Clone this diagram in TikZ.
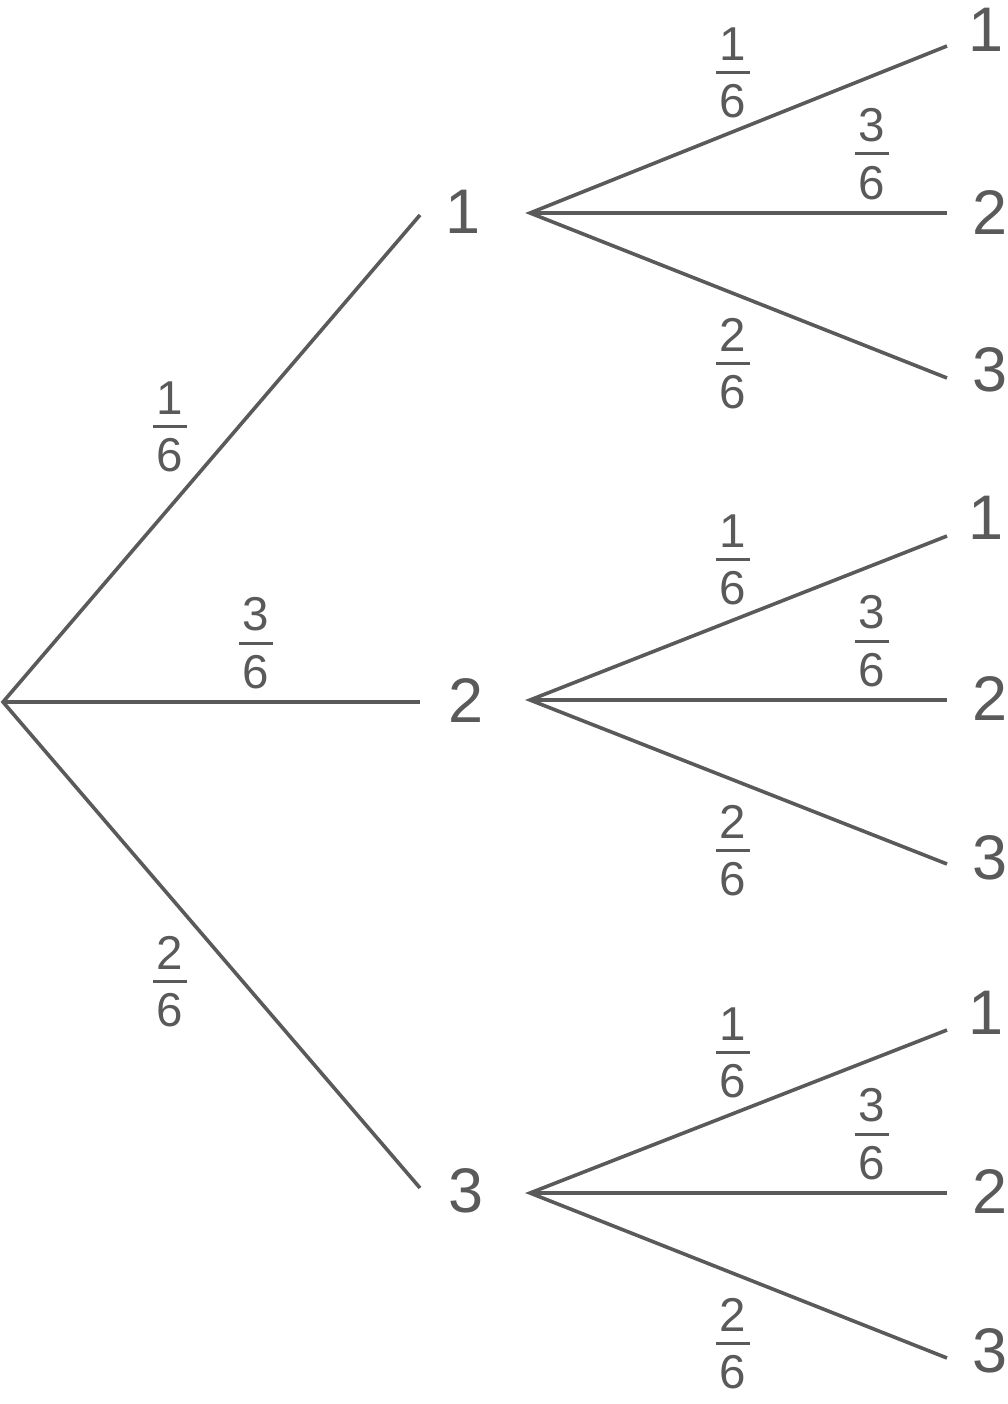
\documentclass[tikz,border=0pt]{standalone}
\usepackage{fontspec}
\setmainfont{Liberation Sans}
\definecolor{ink}{HTML}{5A5A5A}
\newcommand\myfr[2]{\vbox{\hbox to 34pt{\hss#1\hss}\kern10.5pt\hrule height 3pt\kern10.5pt\hbox to 34pt{\hss#2\hss}}}
\begin{document}
\begin{tikzpicture}[x=1pt,y=-1pt,
  edge/.style={draw=ink,line width=3.6pt,line join=miter},
  bigdig/.style={text=ink,inner sep=0pt,text depth=0pt,font=\fontsize{63}{63}\selectfont},
  frac/.style={text=ink,inner sep=0pt,font=\fontsize{47.5}{47.5}\selectfont}]
\useasboundingbox (0,0) rectangle (1008,1404);
% root and level 1
\coordinate (r) at (3,702);
\coordinate (a1) at (420,215);
\coordinate (a2) at (420,702);
\coordinate (a3) at (420,1188);
\draw[edge] (a1) -- (r) -- (a3);
\draw[edge] (r) -- (a2);
\node[bigdig] (n1) at (463,212) {1};
\node[bigdig] (n2) at (466,700) {2};
\node[bigdig] (n3) at (466,1190) {3};
\node[frac] (f1) at (170,427) {\myfr{1}{6}};
\node[frac] (f2) at (256,643) {\myfr{3}{6}};
\node[frac] (f3) at (170,982) {\myfr{2}{6}};
% groups
\foreach \g/\y/\ya/\yb/\yc/\da/\db/\dc in {1/213/46/213/378/30/213/370, 2/700/536/700/864/518/698/857, 3/1193/1030/1193/1358/1013/1191/1350}{
  \coordinate (s\g) at (530,\y);
  \coordinate (e\g a) at (947,\ya);
  \coordinate (e\g b) at (947,\yb);
  \coordinate (e\g c) at (947,\yc);
  \draw[edge] (e\g a) -- (s\g) -- (e\g c);
  \draw[edge] (s\g) -- (e\g b);
  \node[bigdig] (t\g a) at (986,\da) {1};
  \node[bigdig] (t\g b) at (990,\db) {2};
  \node[bigdig] (t\g c) at (990,\dc) {3};
  \node[frac] (p\g a) at (733,\y-140) {\myfr{1}{6}};
  \node[frac] (p\g b) at (872,\y-59) {\myfr{3}{6}};
  \node[frac] (p\g c) at (733,\y+151) {\myfr{2}{6}};
}
\end{tikzpicture}
\end{document}
